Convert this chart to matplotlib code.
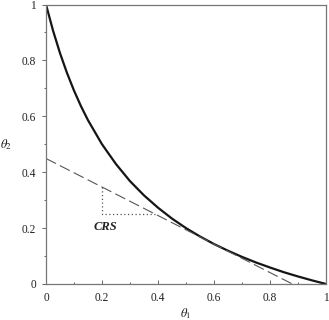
# Recreating the CRS frontier chart (theta1 vs theta2)

import matplotlib
matplotlib.use('Agg')
import matplotlib.pyplot as plt
from matplotlib.ticker import MultipleLocator

# Data

theta1 = [0, 0.025, 0.05, 0.075, 0.1, 0.125, 0.15, 0.2, 0.25, 0.3, 0.35, 0.4, 0.45, 0.5,
          0.55, 0.6, 0.65, 0.7, 0.75, 0.8, 0.85, 0.9, 0.95, 1.0]
theta2 = [1.0, 0.907, 0.826, 0.755, 0.692, 0.636, 0.586, 0.5, 0.429, 0.368, 0.317, 0.273, 0.234, 0.2,
          0.170, 0.143, 0.119, 0.097, 0.077, 0.059, 0.042, 0.027, 0.013, 0.0]

# Tangent (CRS) line

crs_x = [0, 0.88]
crs_y = [0.449, 0]

# Dotted slope triangle

tri_x = [0.2, 0.2, 0.39]
tri_y = [0.347, 0.25, 0.25]

ticks = [0, 0.2, 0.4, 0.6, 0.8, 1]
tick_labels = ['0', '0.2', '0.4', '0.6', '0.8', '1']

# Fonts

plt.rcParams['font.family'] = 'Liberation Serif'
plt.rcParams['mathtext.fontset'] = 'stix'

fig = plt.figure(figsize = (3.29, 3.20), dpi = 100)
ax = fig.add_axes([46/329, 1 - 284/320, 280/329, 279.5/320])

ax.plot(theta1, theta2, color = '#151515', linewidth = 1.6, solid_capstyle = 'butt')
ax.plot(crs_x, crs_y, color = '#555555', linewidth = 0.8, dashes = (10, 4))
ax.plot(tri_x, tri_y, color = '#555555', linewidth = 0.9, linestyle = (0, (1, 2)))
ax.text(0.17, 0.205, 'CRS', fontsize = 9, fontweight = 'bold', fontstyle = 'italic', color = '#222222',
        ha = 'left', va = 'center')

# Axes styling

ax.set_xlim(0, 1)
ax.set_ylim(0, 1)
ax.set_xticks(ticks)
ax.set_xticklabels(tick_labels)
ax.set_yticks(ticks)
ax.set_yticklabels(tick_labels)
ax.xaxis.set_minor_locator(MultipleLocator(0.1))
ax.yaxis.set_minor_locator(MultipleLocator(0.1))
ax.tick_params(which = 'major', length = 3, width = 0.7, color = '#666666', labelsize = 8.3,
               labelcolor = '#222222', pad = 4)
ax.tick_params(which = 'minor', length = 1.6, width = 0.7, color = '#666666')
ax.tick_params(axis = 'x', which = 'both', direction = 'in')
ax.tick_params(axis = 'x', which = 'major', pad = 6)

for s in ax.spines.values():
    s.set_color('#777777')
    s.set_linewidth(0.9)

ax.set_xlabel(r'$\theta_1$', fontsize = 9, color = '#222222')
ax.xaxis.set_label_coords(0.5, -0.078)
ax.set_ylabel(r'$\theta_2$', fontsize = 9, color = '#222222', rotation = 0, ha = 'center', va = 'center')
ax.yaxis.set_label_coords(-0.143, 0.5)

plt.savefig('out.png', dpi = 100)
